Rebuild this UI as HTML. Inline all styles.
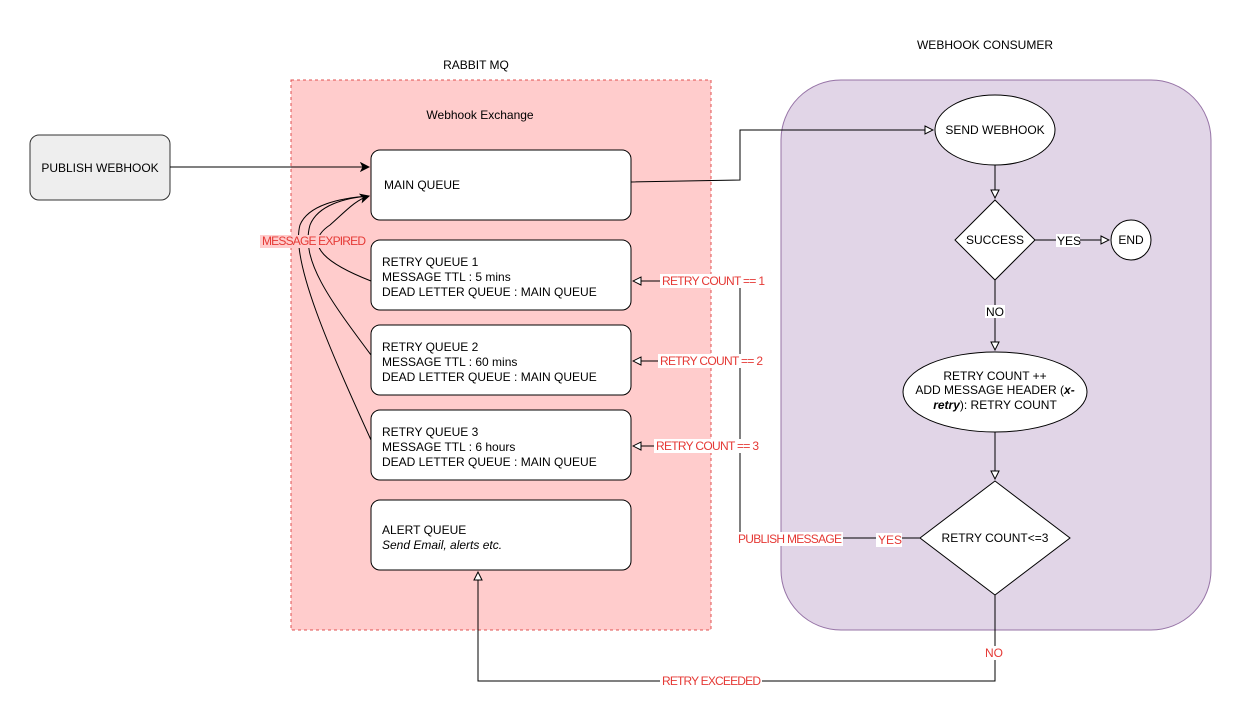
<!DOCTYPE html>
<html><head><meta charset="utf-8"><style>body{margin:0;background:#fff}svg{display:block}text{font-family:"Liberation Sans",Helvetica,sans-serif;font-size:12px}</style></head><body>
<svg width="1243" height="719" viewBox="0 0 1243 719" xmlns="http://www.w3.org/2000/svg">
<defs>
<marker id="o" markerWidth="10" markerHeight="10" refX="9" refY="5" orient="auto" markerUnits="userSpaceOnUse"><path d="M1,1 L9,5 L1,9 Z" fill="#fff" stroke="#000"/></marker>
<marker id="f" markerWidth="10" markerHeight="10" refX="9" refY="5" orient="auto" markerUnits="userSpaceOnUse"><path d="M1,1 L9,5 L1,9 L3,5 Z" fill="#000" stroke="#000"/></marker>
</defs>
<text x="476" y="69" text-anchor="middle">RABBIT MQ</text>
<text x="985" y="49" text-anchor="middle">WEBHOOK CONSUMER</text>
<rect x="291" y="80" width="420" height="550" fill="#ffcccc" stroke="#e05050" stroke-dasharray="3,3"/>
<text x="480" y="119" text-anchor="middle">Webhook Exchange</text>
<rect x="781" y="80" width="430" height="550" rx="60" fill="#e1d5e7" stroke="#9673a6"/>
<rect x="30" y="135" width="140" height="65" rx="9" fill="#eeeeee" stroke="#333"/>
<text x="100" y="172" text-anchor="middle">PUBLISH WEBHOOK</text>
<g fill="#fff" stroke="#000">
<rect x="371" y="150" width="260" height="70" rx="9"/>
<rect x="371" y="240" width="260" height="70" rx="9"/>
<rect x="371" y="325" width="260" height="70" rx="9"/>
<rect x="371" y="410" width="260" height="70" rx="9"/>
<rect x="371" y="500" width="260" height="70" rx="9"/>
<ellipse cx="995" cy="130" rx="60" ry="35"/>
<path d="M995,200 L1035,240 L995,280 L955,240 Z"/>
<circle cx="1131" cy="240" r="20"/>
<ellipse cx="995" cy="392" rx="92" ry="40"/>
<path d="M995,481 L1070,538 L995,595 L920,538 Z"/>
</g>
<text x="384" y="189">MAIN QUEUE</text>
<text x="382" y="266">RETRY QUEUE 1</text><text x="382" y="281">MESSAGE TTL : 5 mins</text><text x="382" y="296">DEAD LETTER QUEUE : MAIN QUEUE</text>
<text x="382" y="351">RETRY QUEUE 2</text><text x="382" y="366">MESSAGE TTL : 60 mins</text><text x="382" y="381">DEAD LETTER QUEUE : MAIN QUEUE</text>
<text x="382" y="436">RETRY QUEUE 3</text><text x="382" y="451">MESSAGE TTL : 6 hours</text><text x="382" y="466">DEAD LETTER QUEUE : MAIN QUEUE</text>
<text x="382" y="534">ALERT QUEUE</text><text x="382" y="549" font-style="italic">Send Email, alerts etc.</text>
<text x="995" y="134" text-anchor="middle">SEND WEBHOOK</text>
<text x="995" y="244" text-anchor="middle">SUCCESS</text>
<text x="1131" y="244" text-anchor="middle">END</text>
<text x="995" y="380" text-anchor="middle">RETRY COUNT ++</text>
<text x="995" y="394" text-anchor="middle">ADD MESSAGE HEADER (<tspan font-weight="bold" font-style="italic">x-</tspan></text>
<text x="995" y="409" text-anchor="middle"><tspan font-weight="bold" font-style="italic">retry</tspan>): RETRY COUNT</text>
<text x="995" y="542" text-anchor="middle">RETRY COUNT&lt;=3</text>
<g fill="none" stroke="#000">
<path d="M170,167 L369,167" marker-end="url(#f)"/>
<path d="M631,182 L740,180 L740,130 L933,130" marker-end="url(#o)"/>
<path d="M995,165 L995,198" marker-end="url(#o)"/>
<path d="M1035,240 L1109,240" marker-end="url(#o)"/>
<path d="M995,280 L995,350" marker-end="url(#o)"/>
<path d="M995,432 L995,479" marker-end="url(#o)"/>
<path d="M920,538 L740,538 L740,281"/>
<path d="M740,281 L633,281" marker-end="url(#o)"/>
<path d="M740,361 L633,361" marker-end="url(#o)"/>
<path d="M740,446 L633,446" marker-end="url(#o)"/>
<path d="M995,595 L995,681 L478,681 L478,572" marker-end="url(#o)"/>
<path d="M371,281 C330,265 300,245 330,225 C345,212 355,200 369,196" marker-end="url(#f)"/>
<path d="M371,355 C330,300 300,260 310,225 C318,205 345,198 369,196"/>
<path d="M371,440 C330,350 290,260 300,225 C308,205 340,198 369,196"/>
</g>
<g fill="#e53935" font-size="11">
<rect x="260" y="235" width="106" height="13" fill="#ffcccc"/>
<text x="262" y="245" textLength="104">MESSAGE EXPIRED</text>
<rect x="660" y="274" width="106" height="14" fill="#fff"/><text x="662" y="285" textLength="103">RETRY COUNT == 1</text>
<rect x="658" y="354" width="106" height="14" fill="#fff"/><text x="660" y="365" textLength="103">RETRY COUNT == 2</text>
<rect x="654" y="439" width="106" height="14" fill="#fff"/><text x="656" y="450" textLength="103">RETRY COUNT == 3</text>
<rect x="737" y="532" width="106" height="14" fill="#fff"/><text x="738" y="543" textLength="104">PUBLISH MESSAGE</text>
<rect x="876" y="533" width="26" height="14" fill="#fff"/><text x="878" y="544">YES</text>
<rect x="984" y="646" width="20" height="14" fill="#fff"/><text x="985" y="657">NO</text>
<rect x="660" y="674" width="102" height="14" fill="#fff"/><text x="662" y="685" textLength="99">RETRY EXCEEDED</text>
</g>
<rect x="1056" y="234" width="24" height="13" fill="#fff"/><text x="1057" y="245" font-size="11">YES</text>
<rect x="985" y="305" width="20" height="13" fill="#fff"/><text x="986" y="316" font-size="11">NO</text>
</svg>
</body></html>
